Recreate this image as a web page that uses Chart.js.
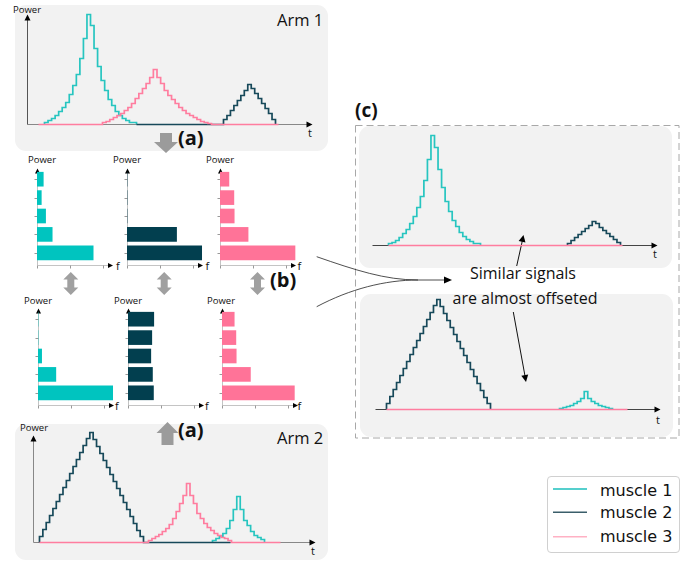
<!DOCTYPE html>
<html><head><meta charset="utf-8"><title>Muscle power signals</title>
<script src="https://cdn.jsdelivr.net/npm/chart.js@4.4.1/dist/chart.umd.min.js"></script>
<style>
html,body{margin:0;padding:0;background:#fff}
body{width:689px;height:564px;position:relative;overflow:hidden;font-family:"Open Sans",sans-serif;color:#111}
.box{position:absolute;background:#f2f2f2;border-radius:11px}
.t{position:absolute;line-height:1;white-space:nowrap}
.pw{font-size:9.5px}
.ax{font-size:11px}
.big{font-size:16.5px}
.bold{font-weight:700;font-size:20px}
.mid{font-size:16px;width:220px;text-align:center}
.chart{position:absolute}
.leg{position:absolute;left:547px;top:476px;width:131px;height:75px;border:1px solid #d0d0d0;border-radius:4px;background:#fff}
.legtxt{font-family:"DejaVu Sans",sans-serif;font-size:16px}
</style></head><body>
<div class="box" style="left:15px;top:5px;width:313px;height:146px"></div>
<div class="box" style="left:15px;top:424px;width:313px;height:136px"></div>
<div class="box" style="left:359px;top:126px;width:313px;height:142px"></div>
<div class="box" style="left:360px;top:294px;width:313px;height:143px"></div>
<div class="leg"></div>
<svg class="chart" style="left:0;top:0" width="689" height="564" viewBox="0 0 689 564">
 <rect x="355.5" y="125.5" width="323.5" height="312.5" fill="none" stroke="#a8a8a8" stroke-dasharray="7 4"/>
 <polygon fill="#9b9b9b" points="160,133 172,133 172,142 178,142 166,153 154,142 160,142"/>
 <polygon fill="#9b9b9b" points="167.5,422 178.5,433 173.5,433 173.5,445 161.5,445 161.5,433 156.5,433"/>
 <polygon fill="#a0a0a0" points="70.8,272 78.3,279.5 74.3,279.5 74.3,287.5 78.3,287.5 70.8,295 63.3,287.5 67.3,287.5 67.3,279.5 63.3,279.5"/>
 <polygon fill="#a0a0a0" points="164.2,272 171.7,279.5 167.7,279.5 167.7,287.5 171.7,287.5 164.2,295 156.7,287.5 160.7,287.5 160.7,279.5 156.7,279.5"/>
 <polygon fill="#a0a0a0" points="257.5,272 265,279.5 261,279.5 261,287.5 265,287.5 257.5,295 250,287.5 254,287.5 254,279.5 250,279.5"/>
 <path d="M316.7,256.7 C355,270 385,280 418,280 L446,280" fill="none" stroke="#222" stroke-width="0.8"/>
 <path d="M316.7,306.7 C350,289 385,280 418,280" fill="none" stroke="#222" stroke-width="0.8"/>
 <polygon points="452,280 444,276.5 444,283.5" fill="#000"/>
 <line x1="516.7" y1="266" x2="522.3" y2="241" stroke="#111" stroke-width="1"/>
 <polygon points="523.5,235 525.46,242.58 518.62,241.12" fill="#000"/>
 <line x1="513.3" y1="312" x2="525" y2="376" stroke="#111" stroke-width="1"/>
 <polygon points="526,382 528.2,374.47 521.3,375.73" fill="#000"/>
 <line x1="553" y1="489" x2="587" y2="489" stroke="#1dbfbd" stroke-width="1.5"/>
 <line x1="553" y1="512.3" x2="587" y2="512.3" stroke="#3a5e6a" stroke-width="1.5"/>
 <line x1="553" y1="536.7" x2="587" y2="536.7" stroke="#ffb1c4" stroke-width="1.5"/>
</svg>

<div class="t pw" style="left:13px;top:5px">Power</div>
<div class="t big" style="left:277px;top:12px">Arm 1</div>
<div class="t ax" style="left:308px;top:126.5px">t</div>
<div class="t bold" style="left:178px;top:127.5px">(a)</div>

<div class="t pw" style="left:28px;top:155px">Power</div>
<div class="t pw" style="left:113px;top:155px">Power</div>
<div class="t pw" style="left:206px;top:155px">Power</div>
<div class="t ax" style="left:116px;top:259.5px">f</div>
<div class="t ax" style="left:205.5px;top:259.5px">f</div>
<div class="t ax" style="left:297.5px;top:259.5px">f</div>
<div class="t bold" style="left:270px;top:269.5px">(b)</div>
<div class="t pw" style="left:24px;top:295.5px">Power</div>
<div class="t pw" style="left:114px;top:295.5px">Power</div>
<div class="t pw" style="left:207px;top:295.5px">Power</div>
<div class="t ax" style="left:115px;top:399.5px">f</div>
<div class="t ax" style="left:205px;top:399.5px">f</div>
<div class="t ax" style="left:297.5px;top:399.5px">f</div>

<div class="t pw" style="left:20px;top:423px">Power</div>
<div class="t big" style="left:277px;top:430px">Arm 2</div>
<div class="t bold" style="left:178px;top:420px">(a)</div>
<div class="t ax" style="left:311px;top:545px">t</div>

<div class="t bold" style="left:355px;top:100.5px;font-size:19px">(c)</div>
<div class="t ax" style="left:653px;top:247.5px">t</div>
<div class="t ax" style="left:656px;top:413.5px">t</div>
<div class="t mid" style="left:413px;top:265.3px">Similar signals</div>
<div class="t mid" style="left:415px;top:289.8px">are almost offseted</div>

<div class="t legtxt" style="left:600px;top:482.5px">muscle 1</div>
<div class="t legtxt" style="left:600px;top:504.8px">muscle 2</div>
<div class="t legtxt" style="left:600px;top:529px">muscle 3</div>

<script>
// ================= DATA =================
// Time-domain signals: successive step power levels,
// [start, end] time of the active part, and [from, to] time range of the drawn trace
const arm1Muscle1 = [2,4,6,9,13,17,22,30,39,50,66,86,110,99,76,58,44,34,25,19,13,9,6,4,2,2];
const arm1Muscle1Time = [17,109];
const arm1Muscle1Span = [17,109];
const arm1Muscle2 = [5,9,14,19,24,29,34,40,36,31,26,21,16,11,5];
const arm1Muscle2Time = [196,248];
const arm1Muscle2Span = [109,248];
const arm1Muscle3 = [2,3,5,7,9,11,14,17,21,26,31,36,41,47,55,47,41,34,29,25,21,17,14,11,9,7,5,3,2,1];
const arm1Muscle3Time = [75,184];
const arm1Muscle3Span = [11,251];

const arm2Muscle1 = [2,4,6,9,14,22,33,46,33,22,17,11,7,5,3];
const arm2Muscle1Time = [179,231];
const arm2Muscle1Span = [179,231];
const arm2Muscle2 = [6,13,20,27,34,41,48,55,62,69,76,83,90,97,104,110,103,96,89,82,75,68,61,54,47,40,33,26,19,12,6];
const arm2Muscle2Time = [6,110];
const arm2Muscle2Span = [6,197];
const arm2Muscle3 = [2,4,6,8,11,14,18,24,31,39,47,59,47,39,29,24,19,15,12,9,7,5,4,2];
const arm2Muscle3Time = [115,198];
const arm2Muscle3Span = [6,247];

const diff1Muscle1 = [2,3,5,8,12,16,22,29,38,49,65,86,110,98,76,58,44,34,25,19,13,9,6,4,2,2];
const diff1Muscle1Time = [16,108];
const diff1Muscle1Span = [16,108];
const diff1Muscle2 = [2,5,8,11,14,17,20,24,22,18,15,12,9,6,3];
const diff1Muscle2Time = [195,248];
const diff1Muscle2Span = [195,248];
const diff1Muscle3 = [];
const diff1Muscle3Span = [16,250];

const diff2Muscle1 = [1,2,3,4,6,8,11,18,11,8,6,4,3,2,1];
const diff2Muscle1Time = [184,237];
const diff2Muscle1Span = [184,237];
const diff2Muscle2 = [6,13,20,27,34,41,48,55,62,69,76,83,90,97,104,110,103,96,89,82,75,68,61,54,47,40,33,26,19,12,6];
const diff2Muscle2Time = [11,115];
const diff2Muscle2Span = [11,115];
const diff2Muscle3 = [];
const diff2Muscle3Span = [11,252];

// Frequency spectra (bottom bin first)
const freqBins = ['f1','f2','f3','f4','f5'];
const fTicks = [0,1,2];
const arm1Spec1 = [1.70,0.46,0.26,0.13,0.19];
const arm1Spec2 = [2.26,1.50,0,0,0];
const arm1Spec3 = [2.27,0.85,0.43,0.42,0.27];
const arm2Spec1 = [2.26,0.54,0.11,0,0];
const arm2Spec2 = [0.77,0.74,0.69,0.72,0.78];
const arm2Spec3 = [2.19,0.86,0.43,0.42,0.37];

// ================= STYLE =================
const COL1='#27c5c0', COL2='#17495a', COL3='#ff7d9f';
const BAR1='#00c4bf', BAR2='#023f4f', BAR3='#ff7398';

Chart.defaults.animation = false;

function stepData(levels, time, span){
  const pts=[{x:span[0],y:0}];
  if(levels.length){
    const w=(time[1]-time[0])/levels.length;
    levels.forEach((v,i)=>pts.push({x:time[0]+i*w,y:v}));
    pts.push({x:time[1],y:0});
  }
  pts.push({x:span[1],y:0});
  return pts;
}

const arrowAxes={id:'arrowAxes',
  beforeDatasetsDraw(chart,args,o){
    const a=chart.chartArea, ctx=chart.ctx;
    let ox, oy;
    if(o.exact){ ox=a.left; oy=a.bottom; }
    else { ox=Math.round(a.left)+0.5; oy=Math.round(a.bottom+(o.baseOff||0))+0.5; }
    const xe=a.right;
    ctx.save();
    ctx.lineWidth=1;
    ctx.strokeStyle=o.xColor;
    ctx.beginPath();ctx.moveTo(ox,oy);ctx.lineTo(xe-4,oy);ctx.stroke();
    if(o.yLen){
      ctx.strokeStyle=o.yColor;
      ctx.beginPath();ctx.moveTo(ox,oy);ctx.lineTo(ox,oy-o.yLen+4);ctx.stroke();
    }
    if(o.ticks){
      ctx.strokeStyle=o.tickColor;
      fTicks.forEach(v=>{const px=Math.round(chart.scales.x.getPixelForValue(v))+0.5;
        ctx.beginPath();ctx.moveTo(px,oy);ctx.lineTo(px,oy+3);ctx.stroke();});
      freqBins.forEach((b,i)=>{const py=Math.round(chart.scales.y.getPixelForValue(i))+0.5;
        ctx.beginPath();ctx.moveTo(ox-3,py);ctx.lineTo(ox,py);ctx.stroke();});
    }
    ctx.fillStyle='#000';
    const hs=o.head||6, hw=o.headW||3;
    ctx.beginPath();ctx.moveTo(xe,oy);ctx.lineTo(xe-hs,oy-hw);ctx.lineTo(xe-hs,oy+hw);ctx.closePath();ctx.fill();
    if(o.yLen){
      const yt=oy-o.yLen;
      ctx.beginPath();ctx.moveTo(ox,yt);ctx.lineTo(ox-hw,yt+hs);ctx.lineTo(ox+hw,yt+hs);ctx.closePath();ctx.fill();
    }
    ctx.restore();
  }
};

function addBox(left,top,w,h){
  const d=document.createElement('div');d.className='chart';
  d.style.left=left+'px';d.style.top=top+'px';d.style.width=w+'px';d.style.height=h+'px';
  const c=document.createElement('canvas');d.appendChild(c);document.body.appendChild(d);return c;
}

function timeline(g, series){
  // half-pixel padding so the baseline of the curves sits on the axis pixel row
  const P={l:8.5,r:7.5,t:8.5,b:5.5}, H=112;
  const cv=addBox(g.ox-8, g.oy-H-8, g.len+16, H+14);
  new Chart(cv,{type:'line',
    data:{datasets:series.map((s,i)=>({data:stepData(s.levels,s.time,s.span),borderColor:s.color,borderWidth:1.7,
      stepped:true,pointRadius:0,fill:false,tension:0,order:i,clip:false}))},
    options:{responsive:true,maintainAspectRatio:false,events:[],
      layout:{padding:{left:P.l,right:P.r,top:P.t,bottom:P.b}},
      scales:{x:{type:'linear',min:0,max:g.len,display:false},y:{type:'linear',min:0,max:H,display:false}},
      plugins:{legend:{display:false},tooltip:{enabled:false},
        arrowAxes:{exact:true,yLen:g.yLen,xColor:g.xColor,yColor:g.yColor,head:6,headW:3}}},
    plugins:[arrowAxes]});
}

function spectrum(ox, baseline, values, color){
  const P={l:8,r:6,t:6,b:9}, W=76, H=92;
  const top=baseline-3-H;
  const cv=addBox(ox-P.l, top-P.t, W+P.l+P.r, H+P.t+P.b);
  new Chart(cv,{type:'bar',
    data:{labels:freqBins,datasets:[{data:values,backgroundColor:color,barThickness:14,borderWidth:0}]},
    options:{indexAxis:'y',responsive:true,maintainAspectRatio:false,events:[],
      layout:{padding:{left:P.l,right:P.r,top:P.t,bottom:P.b}},
      scales:{x:{type:'linear',min:0,max:2.3,display:false},y:{type:'category',reverse:true,display:false}},
      plugins:{legend:{display:false},tooltip:{enabled:false},
        arrowAxes:{baseOff:3,yLen:97,xColor:'#c4c4c4',yColor:'#c4c4c4',ticks:true,tickColor:'#999',head:5,headW:2.5}}},
    plugins:[arrowAxes]});
}

// Arm 1 time signals (first listed is drawn on top)
timeline({ox:27,oy:124,len:285,yLen:110,xColor:'#888',yColor:'#555'},[
  {levels:arm1Muscle3,time:arm1Muscle3Time,span:arm1Muscle3Span,color:COL3},
  {levels:arm1Muscle2,time:arm1Muscle2Time,span:arm1Muscle2Span,color:COL2},
  {levels:arm1Muscle1,time:arm1Muscle1Time,span:arm1Muscle1Span,color:COL1}]);
// Arm 2 time signals
timeline({ox:33,oy:542,len:282,yLen:107,xColor:'#888',yColor:'#888'},[
  {levels:arm2Muscle3,time:arm2Muscle3Time,span:arm2Muscle3Span,color:COL3},
  {levels:arm2Muscle2,time:arm2Muscle2Time,span:arm2Muscle2Span,color:COL2},
  {levels:arm2Muscle1,time:arm2Muscle1Time,span:arm2Muscle1Span,color:COL1}]);
// (c) panels
timeline({ox:372,oy:245,len:285,yLen:0,xColor:'#444'},[
  {levels:diff1Muscle3,time:null,span:diff1Muscle3Span,color:COL3},
  {levels:diff1Muscle2,time:diff1Muscle2Time,span:diff1Muscle2Span,color:COL2},
  {levels:diff1Muscle1,time:diff1Muscle1Time,span:diff1Muscle1Span,color:COL1}]);
timeline({ox:375,oy:409,len:285,yLen:0,xColor:'#444'},[
  {levels:diff2Muscle3,time:null,span:diff2Muscle3Span,color:COL3},
  {levels:diff2Muscle2,time:diff2Muscle2Time,span:diff2Muscle2Span,color:COL2},
  {levels:diff2Muscle1,time:diff2Muscle1Time,span:diff2Muscle1Span,color:COL1}]);

// Spectra
spectrum(37,265,arm1Spec1,BAR1);
spectrum(127,265,arm1Spec2,BAR2);
spectrum(220,265,arm1Spec3,BAR3);
spectrum(38,405,arm2Spec1,BAR1);
spectrum(128,405,arm2Spec2,BAR2);
spectrum(221.5,405,arm2Spec3,BAR3);
</script>
</body></html>
